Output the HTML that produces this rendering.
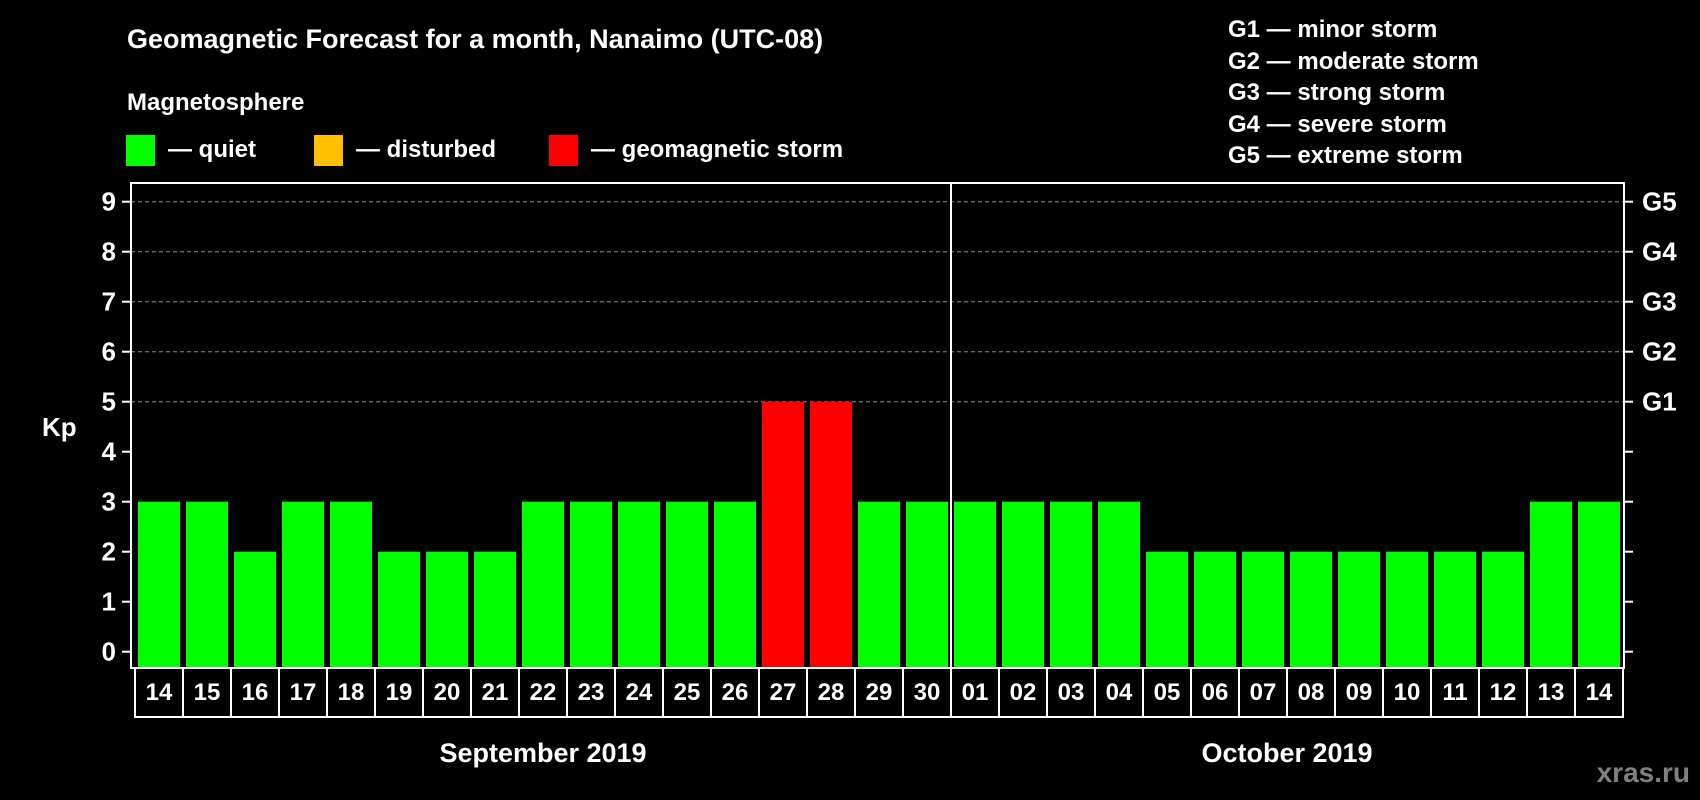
<!DOCTYPE html>
<html><head><meta charset="utf-8"><style>
html,body{margin:0;padding:0;background:#000;}
svg{display:block;font-family:"Liberation Sans",Arial,sans-serif;font-weight:bold;}
</style></head><body>
<svg id="chart" width="1700" height="800" viewBox="0 0 1700 800">
<rect x="0" y="0" width="1700" height="800" fill="#000"/>
<text x="127" y="48" font-size="27" fill="#fff">Geomagnetic Forecast for a month, Nanaimo (UTC-08)</text>
<text x="127" y="110" font-size="24" fill="#fff">Magnetosphere</text>
<g>
<rect x="126" y="135" width="29" height="31" fill="#00ff00"/>
<text x="168" y="157" font-size="24" fill="#fff">— quiet</text></g>
<g>
<rect x="314" y="135" width="29" height="31" fill="#ffc000"/>
<text x="356" y="157" font-size="24" fill="#fff">— disturbed</text></g>
<g>
<rect x="549" y="135" width="29" height="31" fill="#ff0000"/>
<text x="591" y="157" font-size="24" fill="#fff">— geomagnetic storm</text></g>
<g font-size="24" fill="#fff">
<text x="1228" y="37">G1 — minor storm</text>
<text x="1228" y="69">G2 — moderate storm</text>
<text x="1228" y="100">G3 — strong storm</text>
<text x="1228" y="132">G4 — severe storm</text>
<text x="1228" y="163">G5 — extreme storm</text>
</g>
<text x="42" y="436" font-size="26" fill="#fff">Kp</text>
<g id="grid"></g>
<g id="bars"></g>
<g id="axes"></g>
<text x="543" y="762" font-size="27" fill="#fff" text-anchor="middle">September 2019</text>
<text x="1287" y="762" font-size="27" fill="#fff" text-anchor="middle">October 2019</text>
<text x="1690" y="782" font-size="28" fill="#808080" text-anchor="end">xras.ru</text>
</svg>
<script>
const days = ["14","15","16","17","18","19","20","21","22","23","24","25","26","27","28","29","30","01","02","03","04","05","06","07","08","09","10","11","12","13","14"];
const kpValues = [3,3,2,3,3,2,2,2,3,3,3,3,3,5,5,3,3,3,3,3,3,2,2,2,2,2,2,2,2,3,3];
const yTicks = [0,1,2,3,4,5,6,7,8,9];
const gridLevels = [5,6,7,8,9];
const stormLabels = [{v:5,t:"G1"},{v:6,t:"G2"},{v:7,t:"G3"},{v:8,t:"G4"},{v:9,t:"G5"}];
const monthSplitIndex = 17;

const NS="http://www.w3.org/2000/svg";
const plotL=131, plotR=1624, plotT=183, plotB=668;
const cellL=135, cellW=48, tableB=717;
function y(v){return 651.7 - v*50;}
function x(i){return cellL + i*cellW;}
function mk(tag, attrs, parent){const e=document.createElementNS(NS,tag);for(const k in attrs)e.setAttribute(k,attrs[k]);parent.appendChild(e);return e;}
function color(v){return v>=5?"#ff0000":(v>=4?"#ffc000":"#00ff00");}

const grid=document.getElementById('grid'), bars=document.getElementById('bars'), axes=document.getElementById('axes');
gridLevels.forEach(v=>{
  const l=mk('line',{x1:plotL,x2:plotR,y1:y(v),y2:y(v),stroke:"#8c8c8c","stroke-width":1,"stroke-dasharray":"4,3"},grid);
  
  
});
kpValues.forEach((v,i)=>{
  const r=mk('rect',{x:x(i)+3,y:y(v),width:42,height:plotB-y(v),fill:color(v)},bars);
  
  
});
const frame=mk('rect',{x:plotL,y:plotT,width:plotR-plotL,height:plotB-plotT,fill:"none",stroke:"#fff","stroke-width":2},axes);


const sep=mk('line',{x1:x(monthSplitIndex),x2:x(monthSplitIndex),y1:plotT,y2:plotB,stroke:"#fff","stroke-width":2},axes);


yTicks.forEach(v=>{
  const t1=mk('line',{x1:plotL-9,x2:plotL,y1:y(v),y2:y(v),stroke:"#fff","stroke-width":2},axes);
  
  
  const t2=mk('line',{x1:plotR,x2:plotR+9,y1:y(v),y2:y(v),stroke:"#fff","stroke-width":2},axes);
  
  
  const tx=mk('text',{x:116,y:y(v)+9,"font-size":26,fill:"#fff","text-anchor":"end"},axes);
  tx.textContent=v;
  
  
});
stormLabels.forEach(s=>{
  const tx=mk('text',{x:1642,y:y(s.v)+9,"font-size":26,fill:"#fff"},axes);
  tx.textContent=s.t;
  
  
});
days.forEach((d,i)=>{
  const c=mk('rect',{x:x(i),y:plotB,width:cellW,height:tableB-plotB,fill:"none",stroke:"#fff","stroke-width":2},axes);
  
  
  const tx=mk('text',{x:x(i)+cellW/2,y:700,"font-size":24,fill:"#fff","text-anchor":"middle"},axes);
  tx.textContent=d;
  
  
});
</script>
</body></html>
